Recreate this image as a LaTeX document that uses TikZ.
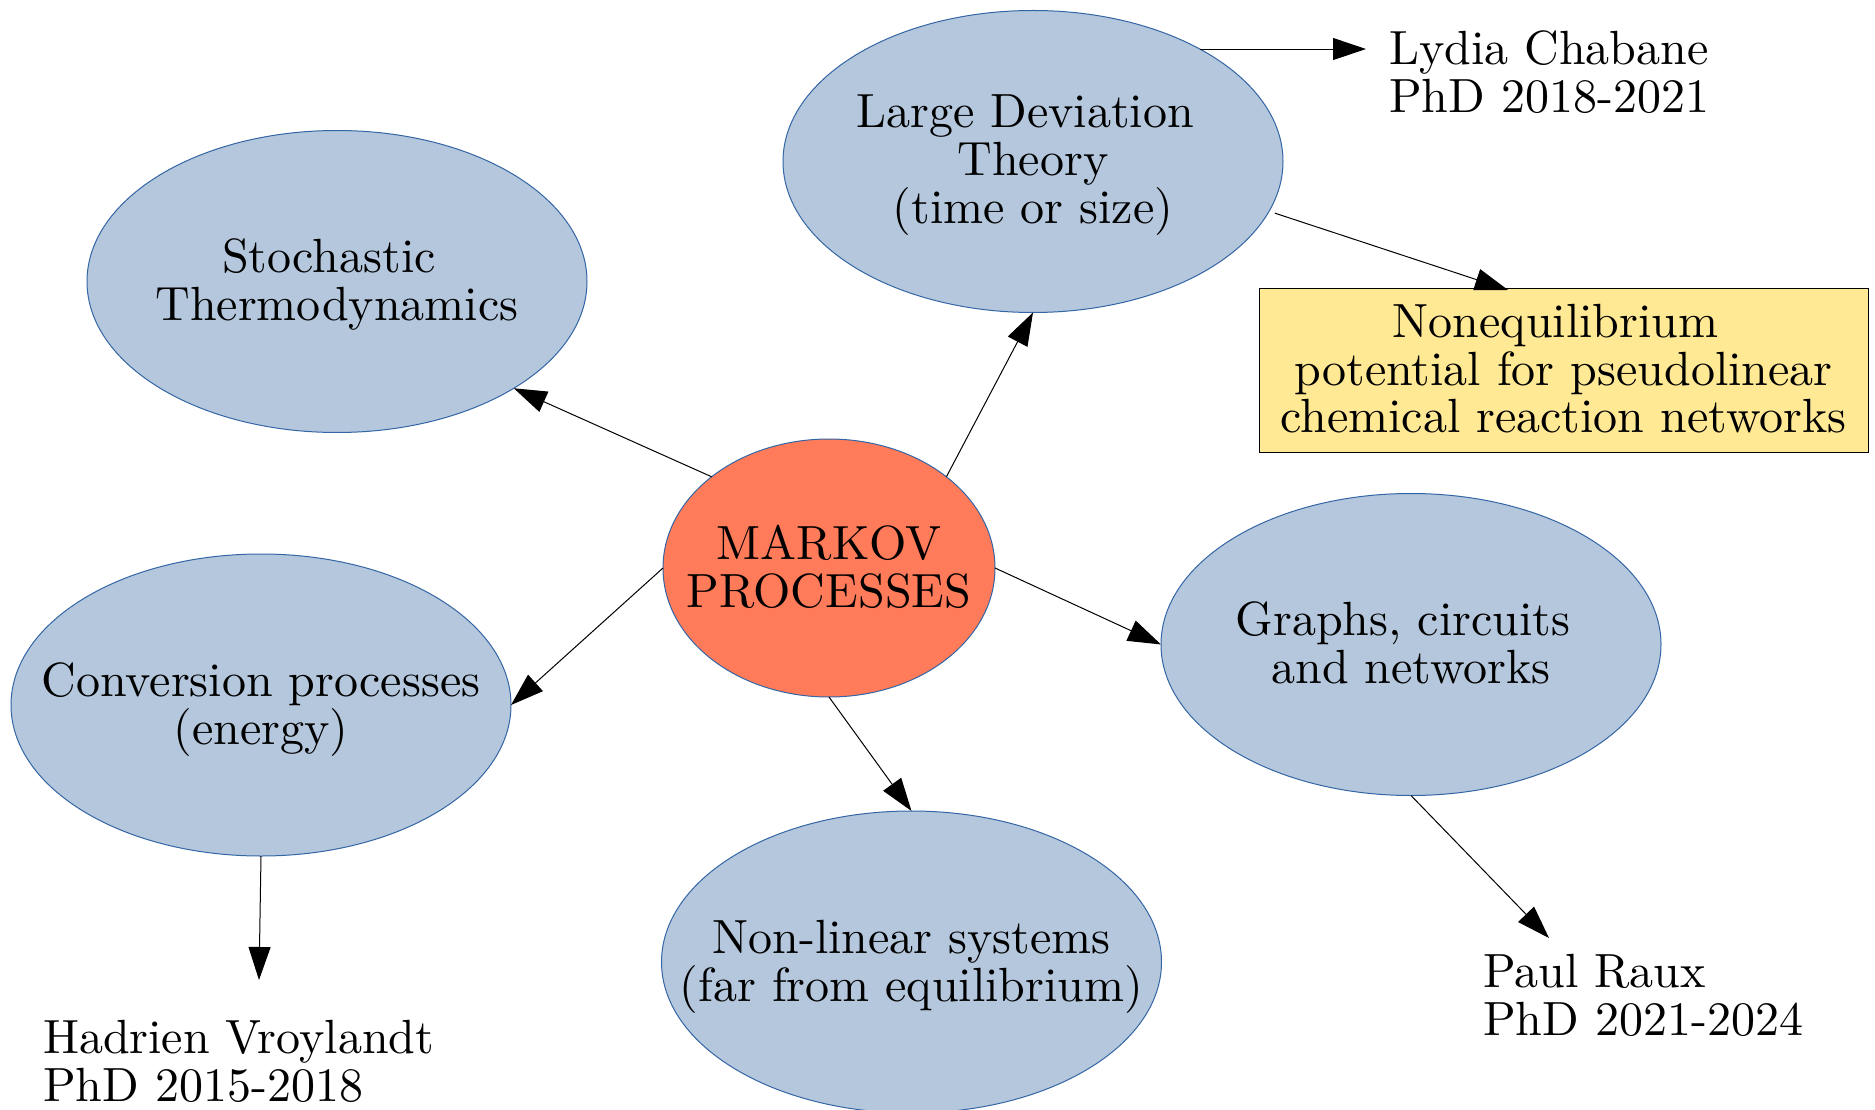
\documentclass[tikz,border=0pt]{standalone}
\usepackage{fontspec}
\setmainfont{lmroman10-regular.otf}
\usetikzlibrary{arrows.meta,shapes.geometric,calc}
\definecolor{elfill}{HTML}{B4C7DC}
\definecolor{elline}{HTML}{3465A4}
\definecolor{mkfill}{HTML}{FF7B59}
\definecolor{boxfill}{HTML}{FFE994}
\newcommand{\ctxt}[1]{\makebox[0pt]{\vtop{\baselineskip=48pt\lineskiplimit=-20pt\halign{\hfil##\hfil\cr#1\crcr}}}}
\newcommand{\ltxt}[1]{\vtop{\baselineskip=48pt\lineskiplimit=-20pt\halign{##\hfil\cr#1\crcr}}}
\tikzset{
  every node/.style={font=\fontsize{48pt}{48pt}\selectfont},
  bub/.style={ellipse, draw=elline, fill=elfill, line width=1pt, minimum width=500pt,
    minimum height=302pt, inner sep=0pt, outer sep=0pt, text height=36pt},
  two/.style={text depth=54pt},
  three/.style={text depth=103pt},
  con/.style={draw=black, line width=1pt, -{Triangle[length=33pt,width=22pt]}},
  lbl/.style={anchor=base west, inner sep=0pt, outer sep=0pt},
  notebox/.style={rectangle, draw=black, fill=boxfill, line width=1pt, minimum width=609pt,
    minimum height=163pt, inner sep=0pt, outer sep=0pt, text height=36pt},
}
\begin{document}
\begin{tikzpicture}[x=1pt,y=-1pt]
\useasboundingbox (0,0) rectangle (1875,1110);
% nodes
\node[bub,two,fill=mkfill,minimum width=332pt,minimum height=258pt] (mk) at (829,568)
  {\ctxt{MARKOV\cr PROCESSES}};
\node[bub,two] (st) at (337,281.5) {\ctxt{Stochastic\kern16pt\cr Thermodynamics}};
\node[bub,three] (ld) at (1033,161.5) {\ctxt{Large Deviation\kern16pt\cr Theory\cr (time or size)}};
\node[bub,two] (cv) at (261,705) {\ctxt{Conversion processes\cr (energy)}};
\node[bub,two] (gr) at (1411,644.5) {\ctxt{Graphs, circuits\kern16pt\cr and networks}};
\node[bub,two] (nl) at (911.5,962) {\ctxt{Non-linear systems\cr (far from equilibrium)}};
\node[notebox,three] (nb) at (1563.5,370.5)
  {\ctxt{Nonequilibrium\kern16pt\cr potential for pseudolinear\cr chemical reaction networks}};
\node[lbl] (lyd) at (1389,65) {\ltxt{Lydia Chabane\cr PhD 2018-2021}};
\node[lbl] (pr) at (1483,987) {\ltxt{Paul Raux\cr PhD 2021-2024}};
\node[lbl] (hv) at (43,1053) {\ltxt{Hadrien Vroylandt\cr PhD 2015-2018}};
% free ends
\coordinate (lydtip) at (1366,47);
\coordinate (nbstart) at ($(ld.-12.5)+(6,1.5)$);
\coordinate (nbtip) at (1508,290);
\coordinate (prtip) at (1549,938);
\coordinate (hvtip) at (259,980);
% connectors
\draw[con] (mk.north west) -- (st.south east);
\draw[con] (mk.north east) -- (ld.south);
\draw[con] (mk.west) -- (cv.east);
\draw[con] (mk.east) -- (gr.west);
\draw[con] (mk.south) -- (nl.north);
\draw[con] (ld.34.85) -- (ld.34.85 -| lydtip);
\draw[con] (nbstart) -- (nbtip);
\draw[con] (gr.south) -- (prtip);
\draw[con] (cv.south) -- (hvtip);
\end{tikzpicture}
\end{document}
